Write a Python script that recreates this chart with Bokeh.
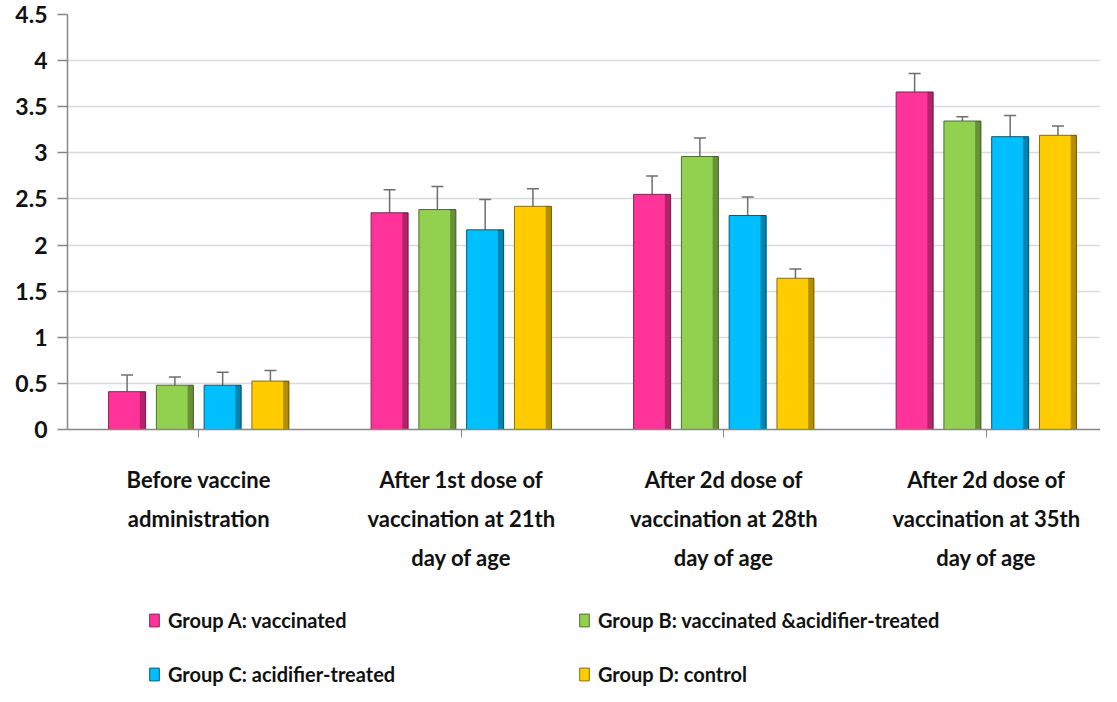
from bokeh.plotting import figure
from bokeh.layouts import column
from bokeh.models import (Range1d, FixedTicker, NumeralTickFormatter, Whisker, TeeHead,
                          ColumnDataSource, Legend, LegendItem)
from bokeh.transform import dodge
from bokeh.embed import file_html
from bokeh.resources import INLINE

categories = [
    "Before vaccine\nadministration",
    "After 1st dose of\nvaccination at 21th\nday of age",
    "After 2d dose of\nvaccination at 28th\nday of age",
    "After 2d dose of\nvaccination at 35th\nday of age",
]
group_names = [
    "Group A: vaccinated",
    "Group B: vaccinated &acidifier-treated",
    "Group C: acidifier-treated",
    "Group D: control",
]
group_a = [0.41, 2.35, 2.55, 3.66]
group_b = [0.48, 2.385, 2.96, 3.345]
group_c = [0.48, 2.165, 2.32, 3.175]
group_d = [0.525, 2.42, 1.64, 3.19]
err_a = [0.18, 0.25, 0.20, 0.20]
err_b = [0.09, 0.25, 0.20, 0.045]
err_c = [0.14, 0.33, 0.20, 0.23]
err_d = [0.115, 0.19, 0.10, 0.10]

colors = ["#FF3399", "#92D050", "#00BFFF", "#FFCC00"]
edge_colors = ["#8C1F55", "#4F6E2A", "#005A78", "#8A6E00"]
series = [group_a, group_b, group_c, group_d]
errors = [err_a, err_b, err_c, err_d]

FONT = "Lato"
TEXT = "#111111"

p = figure(width=1100, height=590, output_backend="svg", toolbar_location=None,
           x_range=Range1d(0, 3.935), y_range=Range1d(0, 4.5),
           min_border_left=67, min_border_right=0, min_border_top=14,
           min_border_bottom=161)
p.outline_line_color = None
p.background_fill_color = "white"
p.xgrid.grid_line_color = None
p.ygrid.grid_line_color = "#D9D9D9"
p.ygrid.grid_line_width = 1.5

centers = [i + 0.5 for i in range(len(categories))]
pitch = 0.182
bar_w = 0.141
strip_w = 0.022

for j, (vals, errs) in enumerate(zip(series, errors)):
    off = (j - 1.5) * pitch
    src = ColumnDataSource(dict(c=centers, top=vals,
                                upper=[v + e for v, e in zip(vals, errs)],
                                lower=[v - e for v, e in zip(vals, errs)]))
    p.vbar(x=dodge("c", off, range=p.x_range), top="top", width=bar_w, bottom=0,
           source=src, fill_color=colors[j], line_color=edge_colors[j], line_width=1)
    # darker right-side shading strip (bevel look)
    p.vbar(x=dodge("c", off + bar_w / 2 - strip_w / 2, range=p.x_range), top="top",
           width=strip_w, bottom=0, source=src,
           fill_color="black", fill_alpha=0.3, line_color=None)
    w = Whisker(base=dodge("c", off, range=p.x_range), upper="upper", lower="lower",
                source=src, line_color="#6E6E6E", line_width=1.5,
                upper_head=TeeHead(size=12, line_color="#6E6E6E", line_width=1.5),
                lower_head=TeeHead(size=12, line_color="#6E6E6E", line_width=1.5))
    p.add_layout(w)

# y axis
p.yaxis.ticker = FixedTicker(ticks=[k * 0.5 for k in range(10)])
p.yaxis.formatter = NumeralTickFormatter(format="0.[0]")
p.yaxis.major_label_text_font = FONT
p.yaxis.major_label_text_font_style = "bold"
p.yaxis.major_label_text_font_size = "23px"
p.yaxis.major_label_text_color = TEXT
p.yaxis.axis_line_color = "#868686"
p.yaxis.axis_line_width = 1.5
p.yaxis.major_tick_line_color = "#868686"
p.yaxis.major_tick_line_width = 1.5
p.yaxis.major_tick_out = 10
p.yaxis.major_tick_in = 0
p.yaxis.minor_tick_line_color = None
p.yaxis.major_label_standoff = 10

# x axis
p.xaxis.ticker = FixedTicker(ticks=centers)
p.xaxis.major_label_overrides = {c: lab for c, lab in zip(centers, categories)}
p.xaxis.major_label_text_font = FONT
p.xaxis.major_label_text_font_style = "bold"
p.xaxis.major_label_text_font_size = "22px"
p.xaxis.major_label_text_color = TEXT
p.xaxis.major_label_text_line_height = 1.45
p.xaxis.axis_line_color = "#868686"
p.xaxis.axis_line_width = 1.5
p.xaxis.major_tick_line_color = "#868686"
p.xaxis.major_tick_out = 8
p.xaxis.major_tick_in = 0
p.xaxis.minor_tick_line_color = None
p.xaxis.major_label_standoff = 28

# legend in its own strip below the chart
lg = figure(width=1100, height=96, output_backend="svg", toolbar_location=None,
            x_range=Range1d(0, 1), y_range=Range1d(0, 1),
            x_axis_location=None, y_axis_location=None,
            min_border=0, min_border_left=0, min_border_right=0,
            min_border_top=0, min_border_bottom=0)
lg.grid.visible = False
lg.outline_line_color = None
items = []
for j in range(len(group_names)):
    # zero-size proxy glyph, only used to draw the legend swatch
    r = lg.vbar(x=[0], top=[0], width=0, fill_color=colors[j], line_color=edge_colors[j])
    items.append(LegendItem(label=group_names[j], renderers=[r]))

# column-major fill: A, C | B, D -> rows "A  B" / "C  D"
legend = Legend(items=[items[0], items[2], items[1], items[3]], ncols=2,
                location=(81, 0),
                label_text_font=FONT, label_text_font_style="bold",
                label_text_font_size="20px", label_text_color=TEXT,
                glyph_width=12, glyph_height=16, label_standoff=8,
                label_width=380, label_height=20, spacing=30,
                border_line_color=None, background_fill_alpha=0,
                margin=0, padding=0)
lg.add_layout(legend, "center")

open("out.html", "w").write(file_html(column(p, lg, spacing=0), INLINE))
